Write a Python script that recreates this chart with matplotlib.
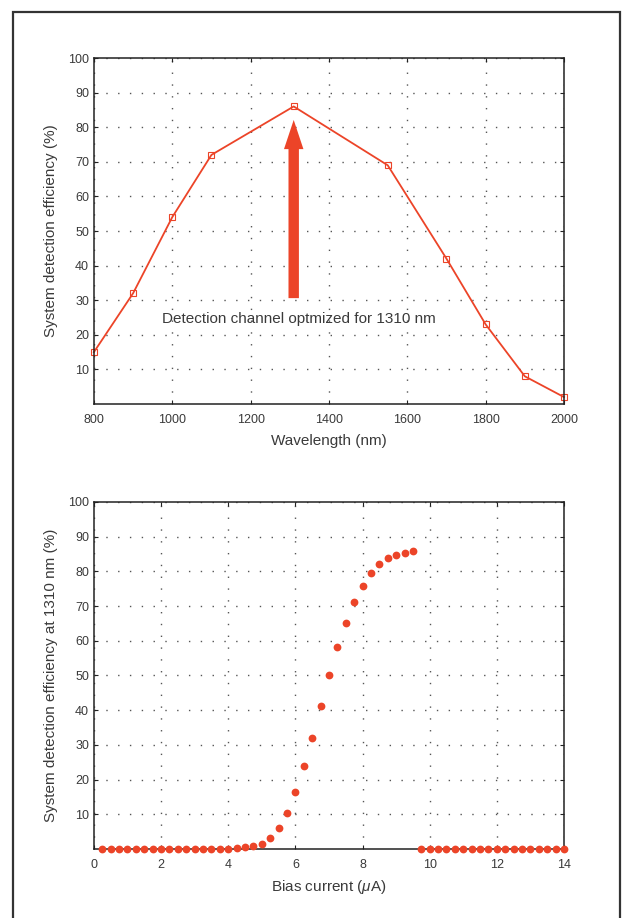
import matplotlib
matplotlib.use("Agg")
import matplotlib.pyplot as plt
from matplotlib.patches import Rectangle

# data
wavelength = [800, 900, 1000, 1100, 1310, 1550, 1700, 1800, 1900, 2000]
sde_wl = [15, 32, 54, 72, 86, 69, 42, 23, 8, 2]

bias_low = [0.25, 0.5, 0.75, 1.0, 1.25, 1.5, 1.75, 2.0, 2.25, 2.5, 2.75, 3.0,
            3.25, 3.5, 3.75, 4.0]
bias_rise = [4.25, 4.5, 4.75, 5.0, 5.25, 5.5, 5.75, 6.0, 6.25, 6.5, 6.75, 7.0,
             7.25, 7.5, 7.75, 8.0, 8.25, 8.5, 8.75, 9.0, 9.25, 9.5]
bias_high = [9.75, 10.0, 10.25, 10.5, 10.75, 11.0, 11.25, 11.5, 11.75, 12.0,
             12.25, 12.5, 12.75, 13.0, 13.25, 13.5, 13.75, 14.0]
sde_rise = [0.3, 0.6, 0.9, 1.5, 3.2, 5.9, 10.5, 16.3, 23.8, 32.1, 41.3, 50.1,
            58.2, 65.2, 71.2, 75.9, 79.5, 82.2, 83.8, 84.7, 85.4, 85.9]

bias = bias_low + bias_rise + bias_high
sde_bias = [0] * len(bias_low) + sde_rise + [0] * len(bias_high)

red = "#ec4428"
txt = "#3a3a3a"

plt.rcParams["font.family"] = ["Liberation Sans", "DejaVu Sans"]
plt.rcParams["mathtext.fontset"] = "custom"
plt.rcParams["mathtext.it"] = "Liberation Sans:italic"

fig = plt.figure(figsize=(6.26, 9.18), dpi=100)

# frame around both plots (open at bottom)
fig.patches.append(Rectangle((13 / 626, -0.05), (620 - 13) / 626, 1.05 - 12 / 918,
                             transform=fig.transFigure, fill=False,
                             edgecolor="#333333", linewidth=1.6))

ax1 = fig.add_axes([0.150, 0.5599, 0.751, 0.3769])
ax2 = fig.add_axes([0.150, 0.0752, 0.751, 0.3780])


def style(ax):
    ax.grid(True, color="#555555", linestyle=(0, (1, 7.5)), linewidth=1.0)
    ax.tick_params(direction="in", length=3, width=0.8, colors="#222222",
                   labelcolor=txt, labelsize=9, top=True, right=True)
    ax.tick_params(axis="x", pad=7)
    for s in ax.spines.values():
        s.set_linewidth(1.1)
        s.set_color("#222222")


# top plot
ax1.plot(wavelength, sde_wl, color=red, linewidth=1.3, marker="s",
         markersize=5, markerfacecolor="none", markeredgewidth=0.8,
         clip_on=False)
ax1.set_xlim(800, 2000)
ax1.set_ylim(0, 100)
ax1.set_xticks(range(800, 2001, 200))
ax1.set_yticks(range(10, 101, 10))
style(ax1)
ax1.set_xlabel("Wavelength (nm)", fontsize=11, color=txt, labelpad=6)
ax1.set_ylabel("System detection efficiency (%)", fontsize=11, color=txt,
               labelpad=7)
ax1.annotate("", xy=(1310, 82.1), xytext=(1310, 30.6),
             arrowprops=dict(facecolor=red, edgecolor="none", width=7.5,
                             headwidth=14, headlength=21, shrink=0))
ax1.text(1322, 24.6, "Detection channel optmized for 1310 nm", fontsize=11,
         color=txt, ha="center", va="center")

# bottom plot
ax2.plot(bias, sde_bias, linestyle="none", marker="o", markersize=5.6,
         color=red, markeredgewidth=0, clip_on=False, zorder=3)
ax2.set_xlim(0, 14)
ax2.set_ylim(0, 100)
ax2.set_xticks(range(0, 15, 2))
ax2.set_yticks(range(10, 101, 10))
style(ax2)
ax2.set_xlabel(r"Bias current ($\mathit{\mu}$A)", fontsize=11, color=txt,
               labelpad=5)
ax2.set_ylabel("System detection efficiency at 1310 nm (%)", fontsize=11,
               color=txt, labelpad=7)

fig.savefig("out.png", dpi=100)
